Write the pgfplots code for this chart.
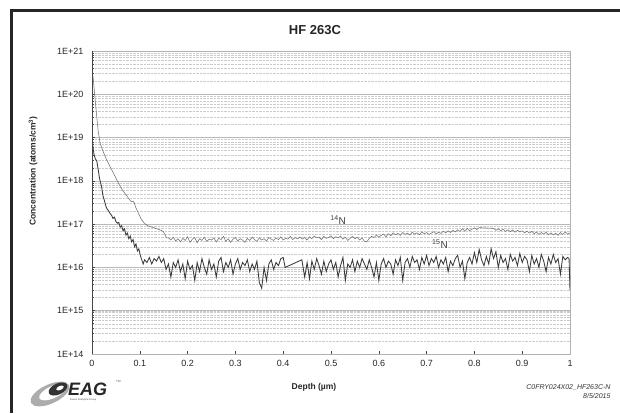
\documentclass[border=0pt]{standalone}
\usepackage{pgfplots}
\pgfplotsset{compat=1.18}
\usepackage{fontspec}
\setmainfont{Liberation Sans}
\definecolor{n14}{RGB}{112,112,112}
\definecolor{n15}{RGB}{58,58,58}
\definecolor{axdark}{RGB}{70,70,70}

\begin{document}
\begin{tikzpicture}[x=1pt,y=1pt]
\path[use as bounding box] (0,0) rectangle (620,413);
% scan frame
\fill[black!85] (10,404) rectangle (620,401);
\fill[black!85] (10,0) rectangle (13,404);

\begin{axis}[
  at={(92pt,59pt)}, anchor=south west,
  width=478pt, height=303pt, scale only axis,
  xmin=0, xmax=1,
  ymode=log, ymin=1e14, ymax=1e21,
  xtick={0,0.1,0.2,0.3,0.4,0.5,0.6,0.7,0.8,0.9,1},
  xticklabels={0,0.1,0.2,0.3,0.4,0.5,0.6,0.7,0.8,0.9,1},
  ytick={1e14,1e15,1e16,1e17,1e18,1e19,1e20,1e21},
  yticklabels={1E+14,1E+15,1E+16,1E+17,1E+18,1E+19,1E+20,1E+21},
  tick label style={font=\fontsize{9}{10}\selectfont, text=black!85},
  yticklabel style={xshift=-5pt},
  xticklabel style={yshift=-3pt},
  tick pos=left, tick align=inside,
  major tick length=3pt, minor tick length=2pt,
  tick style={axdark, line width=0.5pt},
  ymajorgrids, yminorgrids,
  major grid style={gray!55, line width=0.5pt},
  minor grid style={gray!40, densely dotted, line width=0.4pt},
  axis line style={gray!60, line width=0.8pt},
]

\addplot[n14, line width=0.55pt] coordinates {
(0,4.4e20)(0.003,2.0e20)(0.006,8.9e19)(0.010,3.0e19)(0.013,1.4e19)
(0.017,7.4e18)(0.022,5.2e18)(0.026,4.0e18)(0.031,3.0e18)(0.038,2.1e18)
(0.045,1.5e18)(0.052,1.05e18)(0.059,7.4e17)(0.066,5.6e17)(0.073,4.5e17)
(0.079,3.6e17)(0.083,3.3e17)(0.086,3.4e17)(0.088,3.2e17)(0.091,2.5e17)
(0.097,1.8e17)(0.103,1.3e17)(0.108,1.1e17)(0.114,9.5e16)(0.119,9.0e16)
(0.124,8.6e16)(0.129,8.3e16)(0.134,7.9e16)(0.139,7.6e16)(0.144,7.2e16)
(0.149,6.8e16)(0.153,5.6e16)(0.156,4.8e16)
(0.160,4.8e16)(0.165,4.3e16)(0.170,5.0e16)(0.175,4.1e16)(0.180,4.6e16)
(0.185,3.9e16)(0.190,4.7e16)(0.195,4.2e16)(0.200,5.1e16)(0.205,3.8e16)
(0.210,4.5e16)(0.215,4.9e16)(0.220,3.7e16)(0.225,4.6e16)(0.230,4.2e16)
(0.235,5.0e16)(0.240,4.0e16)(0.245,4.5e16)(0.250,4.3e16)(0.255,4.8e16)
(0.260,3.9e16)(0.265,4.7e16)(0.270,4.4e16)(0.275,5.2e16)(0.280,4.0e16)
(0.285,4.6e16)(0.290,3.8e16)(0.295,4.5e16)(0.300,4.9e16)(0.305,4.1e16)
(0.310,4.6e16)(0.315,4.3e16)(0.320,3.8e16)(0.325,4.7e16)(0.330,4.2e16)
(0.335,5.0e16)(0.340,4.4e16)(0.345,4.0e16)(0.350,4.8e16)(0.355,4.3e16)
(0.360,4.6e16)(0.365,4.1e16)(0.370,4.9e16)(0.375,4.5e16)(0.380,4.2e16)
(0.385,4.8e16)(0.390,4.4e16)(0.395,5.1e16)(0.400,4.3e16)(0.405,4.7e16)
(0.410,4.5e16)(0.415,5.2e16)(0.420,4.4e16)(0.425,4.9e16)(0.430,4.6e16)
(0.435,5.0e16)(0.440,4.5e16)(0.445,4.9e16)(0.450,4.3e16)(0.455,5.1e16)
(0.460,4.6e16)(0.465,5.3e16)(0.470,4.8e16)(0.475,5.0e16)(0.480,4.4e16)
(0.485,5.2e16)(0.490,4.7e16)(0.495,4.9e16)(0.500,5.4e16)(0.505,4.6e16)
(0.510,5.1e16)(0.515,4.8e16)(0.520,5.3e16)(0.525,4.5e16)(0.530,5.0e16)
(0.535,4.2e16)(0.540,4.7e16)(0.545,5.2e16)(0.550,4.6e16)(0.555,5.0e16)
(0.560,4.3e16)(0.565,4.8e16)(0.570,4.0e16)(0.575,3.9e16)(0.580,4.7e16)
(0.585,5.2e16)(0.590,4.9e16)(0.595,5.6e16)(0.600,5.0e16)(0.605,5.5e16)
(0.610,5.9e16)(0.615,5.1e16)(0.620,6.0e16)(0.625,5.4e16)(0.630,6.3e16)
(0.635,5.7e16)(0.640,6.1e16)(0.645,5.5e16)(0.650,6.4e16)(0.655,5.8e16)
(0.660,6.2e16)(0.665,5.6e16)(0.670,6.5e16)(0.675,5.9e16)(0.680,6.3e16)
(0.685,5.7e16)(0.690,6.6e16)(0.695,6.0e16)(0.700,6.4e16)(0.705,5.8e16)
(0.710,6.2e16)(0.715,6.7e16)(0.720,6.0e16)(0.725,6.5e16)(0.730,6.1e16)
(0.735,6.9e16)(0.740,6.3e16)(0.745,7.0e16)(0.750,6.4e16)(0.755,7.2e16)
(0.760,6.6e16)(0.765,7.4e16)(0.770,6.8e16)(0.775,7.8e16)(0.780,6.9e16)
(0.785,8.0e16)(0.790,7.1e16)(0.795,7.6e16)(0.800,8.2e16)(0.805,7.5e16)
(0.810,8.3e16)(0.840,8.0e16)(0.845,7.2e16)(0.850,7.8e16)(0.855,7.0e16)
(0.860,7.6e16)(0.865,6.8e16)(0.870,7.4e16)(0.875,6.7e16)(0.880,7.3e16)
(0.885,6.5e16)(0.890,7.2e16)(0.895,6.6e16)(0.900,7.0e16)(0.905,6.3e16)
(0.910,6.9e16)(0.915,6.2e16)(0.920,6.8e16)(0.925,6.0e16)(0.930,6.6e16)
(0.935,5.8e16)(0.940,6.4e16)(0.945,5.9e16)(0.950,6.5e16)(0.955,5.7e16)
(0.960,6.3e16)(0.965,5.6e16)(0.970,6.2e16)(0.975,5.5e16)(0.980,6.4e16)
(0.985,5.8e16)(0.990,6.6e16)(0.995,5.9e16)(1.000,6.3e16)
};

\addplot[n15, line width=0.85pt] coordinates {
(0,1.0e19)(0.002,6.0e18)(0.004,4.2e18)(0.007,3.2e18)(0.010,2.9e18)
(0.013,1.8e18)(0.016,1.1e18)(0.020,7.4e17)(0.023,4.5e17)(0.026,3.5e17)
(0.029,2.6e17)(0.031,2.3e17)(0.035,2.0e17)(0.038,1.75e17)(0.041,1.6e17)
(0.044,1.35e17)(0.047,1.45e17)(0.050,1.15e17)(0.053,1.05e17)(0.056,1.1e17)
(0.059,8.5e16)(0.062,9.2e16)(0.065,7.0e16)(0.068,7.8e16)(0.071,5.6e16)
(0.074,6.2e16)(0.077,4.6e16)(0.080,5.3e16)(0.083,3.9e16)(0.086,4.4e16)
(0.089,3.0e16)(0.092,3.5e16)(0.095,2.4e16)(0.098,2.7e16)(0.101,1.9e16)
(0.104,1.5e16)(0.107,1.2e16)
(0.110,1.5e16)(0.115,1.3e16)(0.120,1.7e16)(0.125,1.2e16)(0.130,1.6e16)
(0.135,1.4e16)(0.140,1.8e16)(0.145,1.3e16)(0.150,1.6e16)(0.155,0.9e16)
(0.160,1.2e16)(0.165,0.6e16)(0.170,1.3e16)(0.175,1.0e16)(0.180,1.5e16)
(0.185,0.8e16)(0.190,1.2e16)(0.195,0.55e16)(0.200,1.4e16)(0.205,0.9e16)
(0.210,1.1e16)(0.215,0.5e16)(0.220,1.3e16)(0.225,0.8e16)(0.230,1.6e16)
(0.235,1.0e16)(0.240,0.7e16)(0.245,1.5e16)(0.250,0.9e16)(0.255,1.2e16)
(0.260,0.6e16)(0.265,1.4e16)(0.270,1.7e16)(0.275,0.8e16)(0.280,1.3e16)
(0.285,1.0e16)(0.290,1.5e16)(0.295,0.7e16)(0.300,1.2e16)(0.305,1.6e16)
(0.310,0.9e16)(0.315,1.3e16)(0.320,1.1e16)(0.325,1.5e16)(0.330,0.8e16)
(0.335,1.2e16)(0.340,0.9e16)(0.345,1.4e16)(0.350,0.45e16)(0.355,0.33e16)
(0.360,1.0e16)(0.365,0.5e16)(0.370,1.2e16)(0.375,1.5e16)(0.380,0.9e16)
(0.385,1.3e16)(0.390,1.1e16)(0.395,1.6e16)(0.400,1.7e16)(0.404,1.0e16)
(0.439,1.5e16)(0.445,0.6e16)(0.450,1.3e16)(0.455,0.55e16)(0.460,1.4e16)
(0.465,0.9e16)(0.470,1.6e16)(0.475,1.1e16)(0.480,0.7e16)(0.485,1.4e16)
(0.490,0.8e16)(0.495,1.2e16)(0.500,1.5e16)(0.505,0.9e16)(0.510,1.3e16)
(0.515,0.6e16)(0.520,1.1e16)(0.525,1.7e16)(0.530,0.5e16)(0.535,1.2e16)
(0.540,1.0e16)(0.545,1.5e16)(0.550,0.8e16)(0.555,1.4e16)(0.560,1.0e16)
(0.565,1.6e16)(0.570,1.2e16)(0.575,0.9e16)(0.580,1.5e16)(0.585,1.0e16)
(0.590,0.6e16)(0.595,1.3e16)(0.600,0.5e16)(0.605,1.2e16)(0.610,1.6e16)
(0.615,1.0e16)(0.620,1.4e16)(0.625,1.2e16)(0.630,0.7e16)(0.635,1.5e16)
(0.640,1.1e16)(0.645,1.7e16)(0.650,0.5e16)(0.655,1.3e16)(0.660,1.6e16)
(0.665,1.0e16)(0.670,1.8e16)(0.675,1.3e16)(0.680,1.5e16)(0.685,0.9e16)
(0.690,1.7e16)(0.695,1.2e16)(0.700,1.9e16)(0.705,1.1e16)(0.710,1.6e16)
(0.715,1.3e16)(0.720,1.8e16)(0.725,1.0e16)(0.730,1.5e16)(0.735,1.2e16)
(0.740,1.7e16)(0.745,0.8e16)(0.750,1.4e16)(0.755,1.1e16)(0.760,1.6e16)
(0.765,1.9e16)(0.770,1.0e16)(0.775,1.4e16)(0.780,0.55e16)(0.785,1.3e16)
(0.790,1.7e16)(0.795,1.2e16)(0.800,2.2e16)(0.805,1.3e16)(0.810,2.6e16)
(0.815,1.5e16)(0.820,1.1e16)(0.825,1.8e16)(0.830,1.2e16)(0.835,2.7e16)
(0.840,1.6e16)(0.845,2.3e16)(0.850,1.0e16)(0.855,1.9e16)(0.860,1.3e16)
(0.865,1.6e16)(0.870,0.9e16)(0.875,2.0e16)(0.880,1.4e16)(0.885,1.7e16)
(0.890,1.1e16)(0.895,2.1e16)(0.900,1.3e16)(0.905,1.8e16)(0.910,1.5e16)
(0.915,0.8e16)(0.920,1.9e16)(0.925,1.2e16)(0.930,1.6e16)(0.935,1.0e16)
(0.940,2.0e16)(0.945,1.4e16)(0.950,0.8e16)(0.955,1.7e16)(0.960,1.2e16)
(0.965,2.0e16)(0.970,1.3e16)(0.975,1.6e16)(0.980,0.7e16)(0.985,1.8e16)
(0.990,1.5e16)(0.995,1.7e16)(0.998,1.6e16)(1.000,0.3e16)
};

% axis lines on left and bottom are darker
\draw[axdark, line width=0.8pt] (rel axis cs:0,1) -- (rel axis cs:0,0) -- (rel axis cs:1,0);

\node[font=\fontsize{10}{11}\selectfont, text=black!75] at (axis cs:0.515,1.25e17) {\textsuperscript{14}N};
\node[font=\fontsize{10}{11}\selectfont, text=black!75] at (axis cs:0.728,3.5e16) {\textsuperscript{15}N};
\end{axis}

% title and axis labels
\node[font=\fontsize{13}{14}\selectfont\bfseries, text=black!85] at (315,383) {HF 263C};
\node[font=\fontsize{8.5}{10}\selectfont\bfseries, text=black!85, rotate=90] at (33,242) {Concentration (atoms/cm\textsuperscript{3})};
\node[font=\fontsize{8.5}{10}\selectfont\bfseries, text=black!85] at (314,26) {Depth (µm)};

% file stamp
\node[font=\fontsize{7}{8}\selectfont\itshape, text=black!80, anchor=east] at (614,26) {C0FRY024X02\_HF263C-N};
\node[font=\fontsize{7}{8}\selectfont\itshape, text=black!80, anchor=east] at (614,17) {8/5/2015};

% EAG logo
\fill[gray!65, rotate around={25:(50,19)}] (50,19) ellipse (21 and 9.5);
\fill[white, rotate around={25:(53,21)}] (53,21) ellipse (15 and 6);
\fill[black!80, rotate around={25:(58,24)}] (58,24) ellipse (10 and 5.5);
\fill[white, rotate around={25:(60,25)}] (60,25) ellipse (4 and 2);
\node[font=\fontsize{18}{19}\selectfont\bfseries\itshape, text=black!85, anchor=base west, inner sep=0pt] at (68,18) {EAG};
\node[font=\fontsize{2.5}{3}\selectfont, text=black!70, anchor=west, inner sep=0pt] at (70,13) {Evans Analytical Group};
\node[font=\fontsize{3}{3}\selectfont, text=black!70, anchor=west, inner sep=0pt] at (116,32) {TM};
\end{tikzpicture}
\end{document}
